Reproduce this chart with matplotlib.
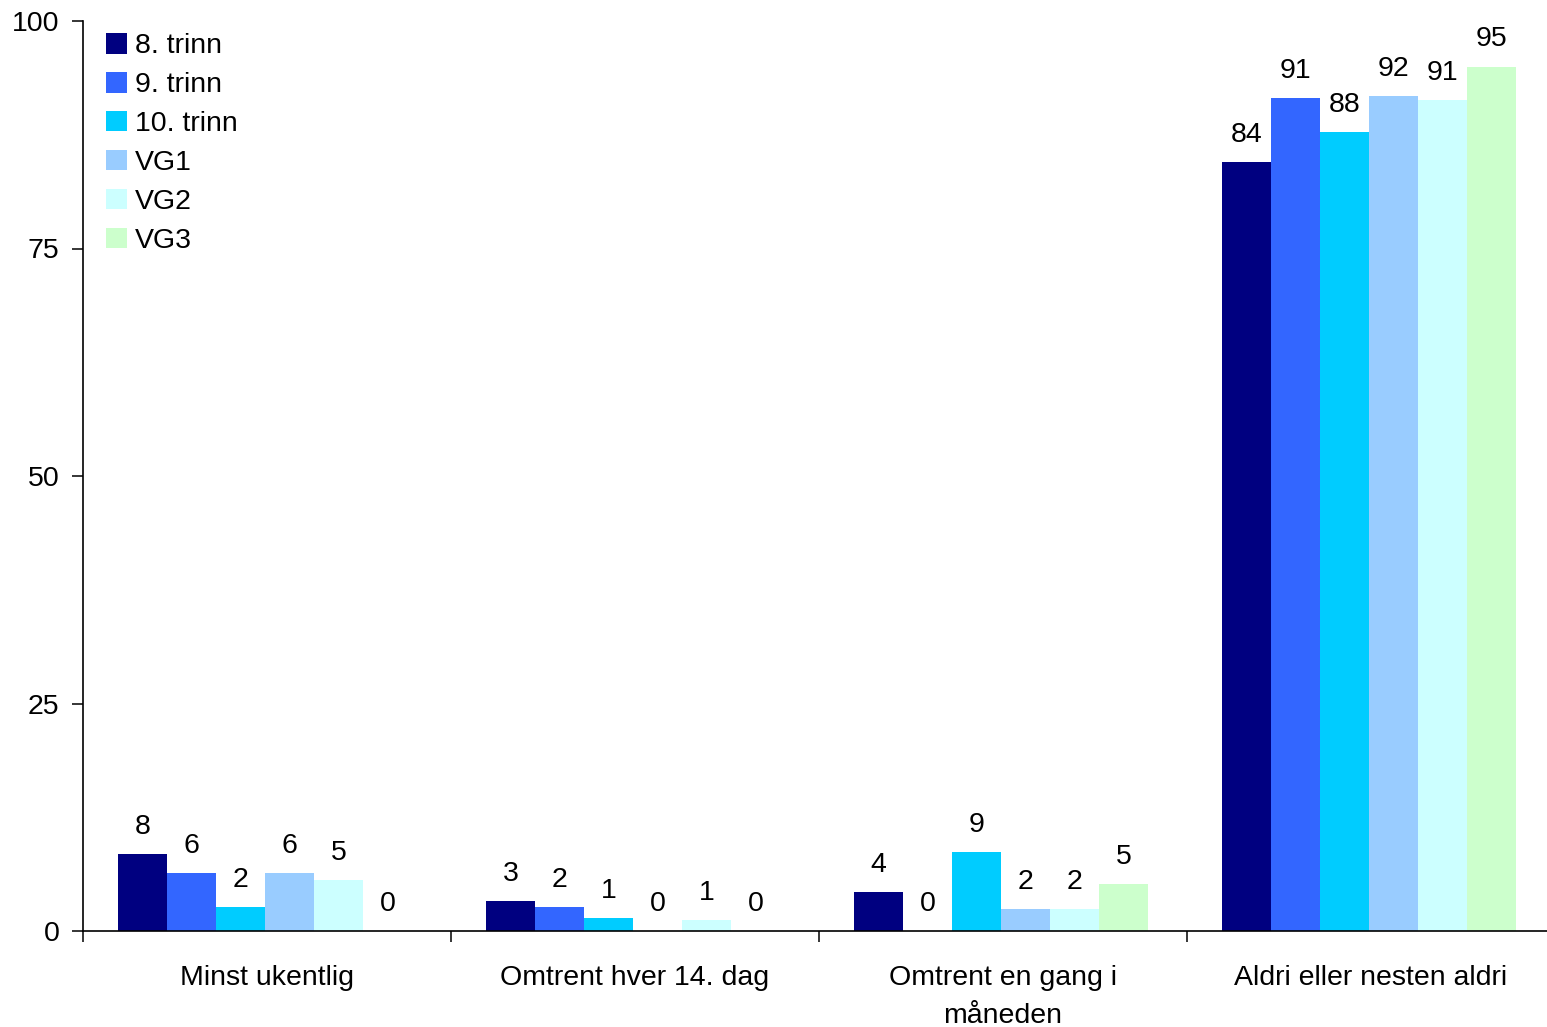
import numpy as np
import matplotlib
matplotlib.use('Agg')
import matplotlib.pyplot as plt

plt.rcParams['font.family'] = ['Liberation Sans', 'DejaVu Sans']

#Categories and series
categories = ['Minst ukentlig', 'Omtrent hver 14. dag',
              'Omtrent en gang i\nmåneden', 'Aldri eller nesten aldri']
series = ['8. trinn', '9. trinn', '10. trinn', 'VG1', 'VG2', 'VG3']
colors = ['#000080', '#3366FF', '#00CCFF', '#99CCFF', '#CCFFFF', '#CCFFCC']

#bar heights (one list per series, one value per category)
trinn8 = [8.5, 3.3, 4.3, 84.5]
trinn9 = [6.4, 2.6, 0.0, 91.5]
trinn10 = [2.6, 1.4, 8.7, 87.8]
vg1 = [6.4, 0.0, 2.4, 91.8]
vg2 = [5.6, 1.2, 2.4, 91.3]
vg3 = [0.0, 0.0, 5.2, 95.0]
values = [trinn8, trinn9, trinn10, vg1, vg2, vg3]

#printed labels above bars
lab8 = ['8', '3', '4', '84']
lab9 = ['6', '2', '0', '91']
lab10 = ['2', '1', '9', '88']
labvg1 = ['6', '0', '2', '92']
labvg2 = ['5', '1', '2', '91']
labvg3 = ['0', '0', '5', '95']
labels = [lab8, lab9, lab10, labvg1, labvg2, labvg3]

fs = 20.5
fig = plt.figure(figsize=(15.47, 10.27), dpi=100)
ax = fig.add_axes([83/1547, 96/1027, 1472/1547, 910/1027])

x = np.arange(len(categories))
w = 0.8/len(series)
for i, (s, c) in enumerate(zip(series, colors)):
    pos = x - 0.405 + w*(i + 0.5)
    ax.bar(pos, values[i], width=w, color=c, label=s, zorder=2)
    for xp, v, t in zip(pos, values[i], labels[i]):
        ax.annotate(t, (xp, v), xytext=(0, 19.5), textcoords='offset points',
                    ha='center', va='center', fontsize=fs)

ax.set_xlim(-0.5, len(categories) - 0.5)
ax.set_ylim(0, 100)
ax.set_yticks([0, 25, 50, 75, 100])
ax.set_xticks(x)
ax.set_xticklabels(categories, fontsize=fs, linespacing=1.6)
ax.set_xticks(np.arange(len(categories) + 1) - 0.5, minor=True)
ax.tick_params(axis='x', which='major', length=0, pad=24.5)
ax.tick_params(axis='x', which='minor', length=8, width=1.1, direction='out')
ax.tick_params(axis='y', labelsize=fs, length=8, width=1.1, pad=9)

for sp in ['top', 'right']:
    ax.spines[sp].set_visible(False)
for sp in ['left', 'bottom']:
    ax.spines[sp].set_linewidth(1.2)

ax.legend(loc='upper left', bbox_to_anchor=(0.008, 0.999), frameon=False,
          fontsize=fs, handlelength=0.72, handleheight=0.72,
          handletextpad=0.3, labelspacing=0.45, borderaxespad=0)

plt.savefig('out.png')
